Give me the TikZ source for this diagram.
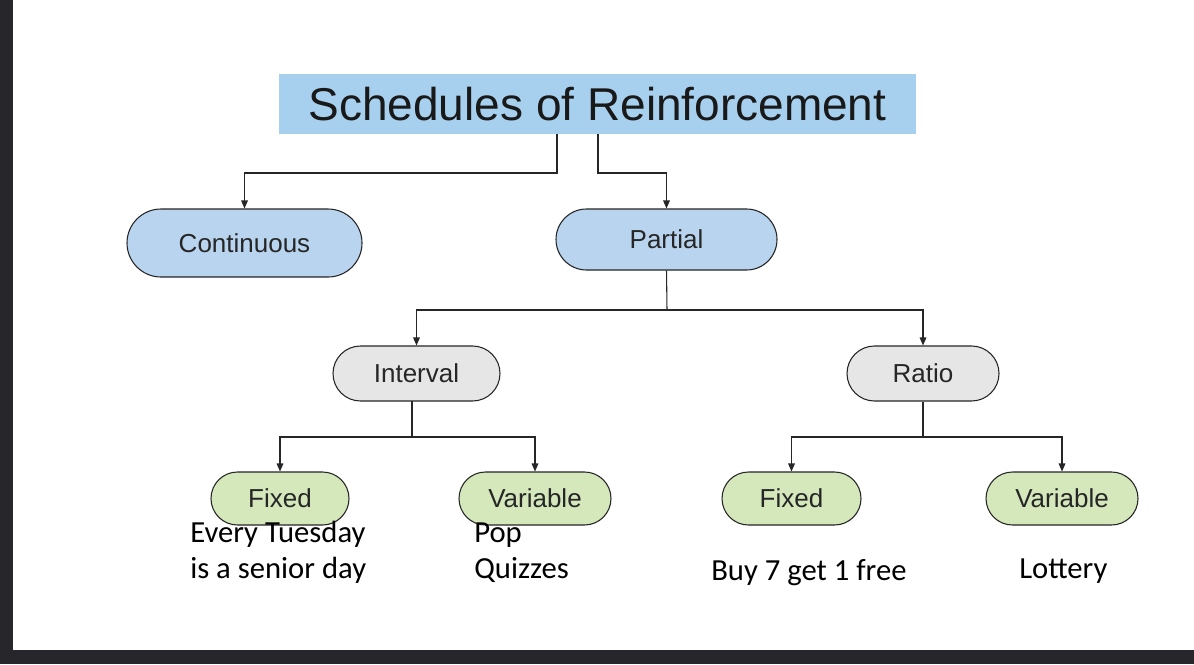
\documentclass[tikz,border=0pt]{standalone}
\usepackage{fontspec}
\setmainfont{Liberation Sans}
\newfontfamily\carlitofont{Carlito}
\usetikzlibrary{arrows.meta,shapes.misc}
\definecolor{tb}{HTML}{A7D0EF}
\definecolor{pb}{HTML}{B9D4EE}
\definecolor{pg}{HTML}{E6E6E6}
\definecolor{pgr}{HTML}{D4E8BC}
\definecolor{dk}{HTML}{27272B}
\begin{document}
\begin{tikzpicture}[x=0.75pt,y=-0.75pt,
  pill/.style={rounded rectangle,draw=black!85,line width=0.8pt,inner sep=0pt,font=\fontsize{19.5}{22}\selectfont,text=black!85},
  ar/.style={draw=black!85,line width=0.8pt,-{Triangle[length=6pt,width=5pt]}},
  ln/.style={draw=black!85,line width=0.8pt},
  ex/.style={font=\carlitofont\fontsize{23}{27}\selectfont,align=left,anchor=base west,inner sep=0pt}]
\useasboundingbox (0,0) rectangle (1194,664);
\fill[white] (0,0) rectangle (1194,664);
\fill[dk] (0,0) rectangle (13,664);
\fill[dk] (0,650) rectangle (1194,664);
\node[fill=tb,minimum width=637*0.75pt,minimum height=60*0.75pt,inner sep=0pt,font=\fontsize{34.5}{40}\selectfont,text=black!90] (t) at (597.5,104) {Schedules of Reinforcement};
\node[pill,fill=pb,minimum width=235*0.75pt,minimum height=68*0.75pt] (c) at (244.5,243) {Continuous};
\node[pill,fill=pb,minimum width=221*0.75pt,minimum height=61*0.75pt] (p) at (666.5,239.5) {Partial};
\node[pill,fill=pg,minimum width=167*0.75pt,minimum height=55*0.75pt] (i) at (416.5,373.5) {Interval};
\node[pill,fill=pg,minimum width=152*0.75pt,minimum height=55*0.75pt] (r) at (923,373.5) {Ratio};
\node[pill,fill=pgr,minimum width=138*0.75pt,minimum height=53*0.75pt] (f1) at (280,498.5) {Fixed};
\node[pill,fill=pgr,minimum width=152*0.75pt,minimum height=53*0.75pt] (v1) at (535,498.5) {Variable};
\node[pill,fill=pgr,minimum width=139*0.75pt,minimum height=53*0.75pt] (f2) at (791.5,498.5) {Fixed};
\node[pill,fill=pgr,minimum width=152*0.75pt,minimum height=53*0.75pt] (v2) at (1062,498.5) {Variable};
\coordinate (a1) at (557,134);\coordinate (a2) at (598,134);
\draw[ar] (a1) -- (557,173) -| (c.north);
\draw[ar] (a2) -- (598,173) -| (p.north);
\draw[ln] (p.south) -- (667,310);
\draw[ar] (667,310) -| (i.north);
\draw[ar] (667,310) -| (r.north);
\draw[ln] (412,401) -- (412,437);
\draw[ar] (412,437) -| (f1.north);
\draw[ar] (412,437) -| (v1.north);
\draw[ln] (r.south) -- (923,437);
\draw[ar] (923,437) -| (f2.north);
\draw[ar] (923,437) -| (v2.north);
\node[ex] (e1) at (190,578) {Every Tuesday\\is a senior day};
\node[ex] (e2) at (474,578) {Pop\\Quizzes};
\node[ex] (e3) at (711,580) {Buy 7 get 1 free};
\node[ex] (e4) at (1019,578) {Lottery};
\end{tikzpicture}
\end{document}
